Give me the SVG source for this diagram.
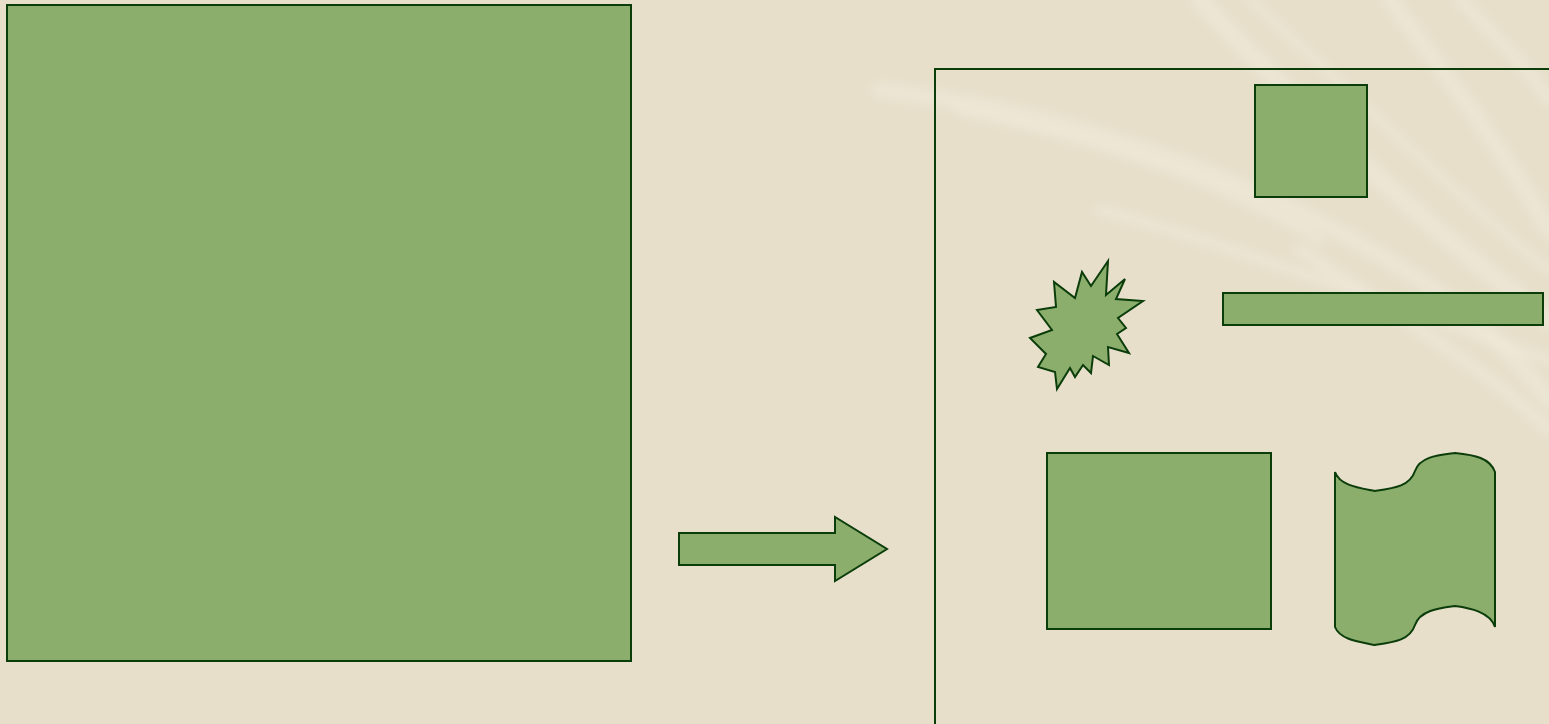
<svg xmlns="http://www.w3.org/2000/svg" width="1549" height="724" viewBox="0 0 1549 724">
<defs>
<style>
.s{fill:#8BAE6C;stroke:#0B3D0B;stroke-width:2;stroke-linejoin:miter}
.leaf{fill:none;stroke:#F1EBDD;stroke-linecap:round;opacity:0.55}
</style>
<filter id="b" x="-10%" y="-10%" width="120%" height="120%"><feGaussianBlur stdDeviation="5"/></filter>
</defs>
<rect width="1549" height="724" fill="#E7DFCA"/>
<g id="background-leaves" filter="url(#b)">
<path class="leaf" d="M1200,0 C1300,110 1430,230 1549,320" stroke-width="18"/>
<path class="leaf" d="M1390,0 C1450,80 1510,160 1549,230" stroke-width="16"/>
<path class="leaf" d="M1250,0 C1350,90 1460,200 1549,270" stroke-width="8"/>
<path class="leaf" d="M880,90 C1050,110 1250,170 1420,280 C1480,320 1520,360 1549,400" stroke-width="16"/>
<path class="leaf" d="M960,110 C1100,140 1220,180 1320,240" stroke-width="10"/>
<path class="leaf" d="M1100,210 C1250,250 1400,310 1549,360" stroke-width="10"/>
<path class="leaf" d="M1300,250 C1420,330 1500,380 1549,430" stroke-width="12"/>
<path class="leaf" d="M1460,0 C1500,40 1530,70 1549,100" stroke-width="12"/>
</g>
<g id="big-rect"><rect class="s" x="7" y="5" width="624" height="656"/></g>
<g id="connectors">
<path id="arrow" class="s" d="M679,533 L835,533 L835,517 L887,549 L835,581 L835,565 L679,565 Z"/>
</g>
<g id="frame"><path d="M935,724 L935,69 L1549,69" fill="none" stroke="#0B3D0B" stroke-width="2"/></g>
<g id="small-square"><rect class="s" x="1255" y="85" width="112" height="112"/></g>
<g id="bar"><rect class="s" x="1223" y="293" width="320" height="32"/></g>
<g id="starburst"><polygon class="s" points="1108,261 1106,295 1125,279 1116,299 1143,301 1118,318 1126,328 1117,334 1129,353 1108,347 1109,365 1093,356 1091,373 1083,365 1075,377 1070,368 1057,389 1055,372 1038,367 1046,354 1030,338 1052,330 1037,310 1056,307 1054,282 1075,298 1082,272 1091,286"/></g>
<g id="mid-rect"><rect class="s" x="1047" y="453" width="224" height="176"/></g>
<g id="wave"><path class="s" d="M1335,472 C1340,486 1360,488 1375,491 C1395,488 1410,486 1415,471 C1420,456 1440,455 1455,453 C1475,455 1490,458 1495,472 L1495,627 C1490,612 1470,608 1455,606 C1440,608 1420,610 1415,625 C1410,640 1395,642 1375,645 C1360,642 1340,640 1335,627 Z"/></g>
</svg>
